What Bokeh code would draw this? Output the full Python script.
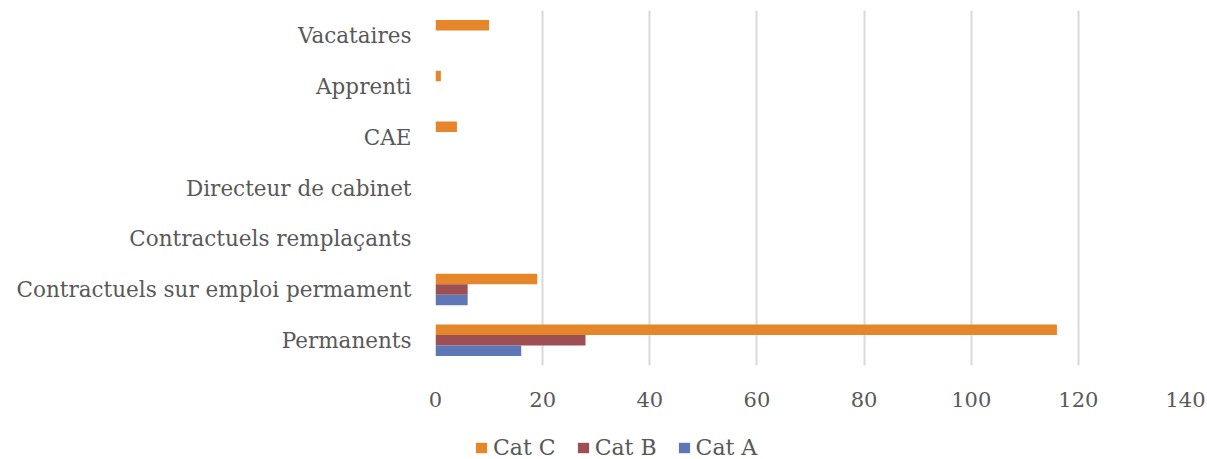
from bokeh.plotting import figure
from bokeh.models import Legend, LegendItem, ColumnDataSource
from bokeh.layouts import column
from bokeh.transform import dodge
from bokeh.embed import file_html
from bokeh.resources import INLINE

categories = [
    "Permanents",
    "Contractuels sur emploi permament",
    "Contractuels remplaçants",
    "Directeur de cabinet",
    "CAE",
    "Apprenti",
    "Vacataires",
]
cat_a = [16, 6, 0, 0, 0, 0, 0]
cat_b = [28, 6, 0, 0, 0, 0, 0]
cat_c = [116, 19, 0, 0, 4, 1, 10]
x_ticks = [0, 20, 40, 60, 80, 100, 120, 140]

series = ["Cat C", "Cat B", "Cat A"]
colors = ["#E6862A", "#9E4F51", "#5F77B6"]

FONT = "DejaVu Serif"
TEXT = "#595959"

source = ColumnDataSource(dict(cat=categories, a=cat_a, b=cat_b, c=cat_c))

p = figure(
    width=1207, height=410,
    y_range=categories, x_range=(0, 140),
    output_backend="svg", toolbar_location=None,
    min_border_left=435, min_border_right=22,
    min_border_top=10, min_border_bottom=45,
)
p.outline_line_color = None

bh = 0.207
for col, off, color in zip(["c", "b", "a"], [bh, 0, -bh], colors):
    p.hbar(y=dodge("cat", off, range=p.y_range), right=col, left=0, height=bh,
           source=source, color=color, line_color=None)

p.xaxis.ticker = x_ticks
p.xaxis.axis_line_color = None
p.xaxis.major_tick_line_color = None
p.xaxis.minor_tick_line_color = None
p.xaxis.major_label_standoff = 20
p.xaxis.major_label_text_font = FONT
p.xaxis.major_label_text_font_size = "21px"
p.xaxis.major_label_text_color = TEXT

p.yaxis.axis_line_color = None
p.yaxis.major_tick_line_color = None
p.yaxis.minor_tick_line_color = None
p.yaxis.major_label_standoff = 18
p.yaxis.major_label_text_font = FONT
p.yaxis.major_label_text_font_size = "21.5px"
p.yaxis.major_label_text_color = TEXT

p.xgrid.grid_line_color = "#D9D9D9"
p.xgrid.grid_line_width = 2
p.ygrid.grid_line_color = None

# legend strip underneath the chart
leg = figure(
    width=1207, height=49, x_range=(0, 1), y_range=(0, 1),
    output_backend="svg", toolbar_location=None,
    min_border=0,
)
leg.outline_line_color = None
leg.xaxis.visible = False
leg.yaxis.visible = False
leg.grid.visible = False

# swatch renderers hold no drawable point; only their legend entries show
nothing = ColumnDataSource(dict(y=[float("nan")], right=[float("nan")]))
items = []
for name, color in zip(series, colors):
    r = leg.hbar(y="y", right="right", left=0, height=0.5, source=nothing,
                 color=color, line_color=None)
    items.append(LegendItem(label=name, renderers=[r]))

legend = Legend(
    items=items,
    orientation="horizontal",
    location=(39, -1),
    label_text_font=FONT, label_text_font_size="22px", label_text_color=TEXT,
    label_height=20,
    glyph_width=14, glyph_height=13, spacing=20, label_standoff=5,
    padding=0, margin=0, border_line_color=None, background_fill_alpha=0,
)
leg.add_layout(legend, "center")

open("out.html", "w").write(file_html(column(p, leg, spacing=0), INLINE))
